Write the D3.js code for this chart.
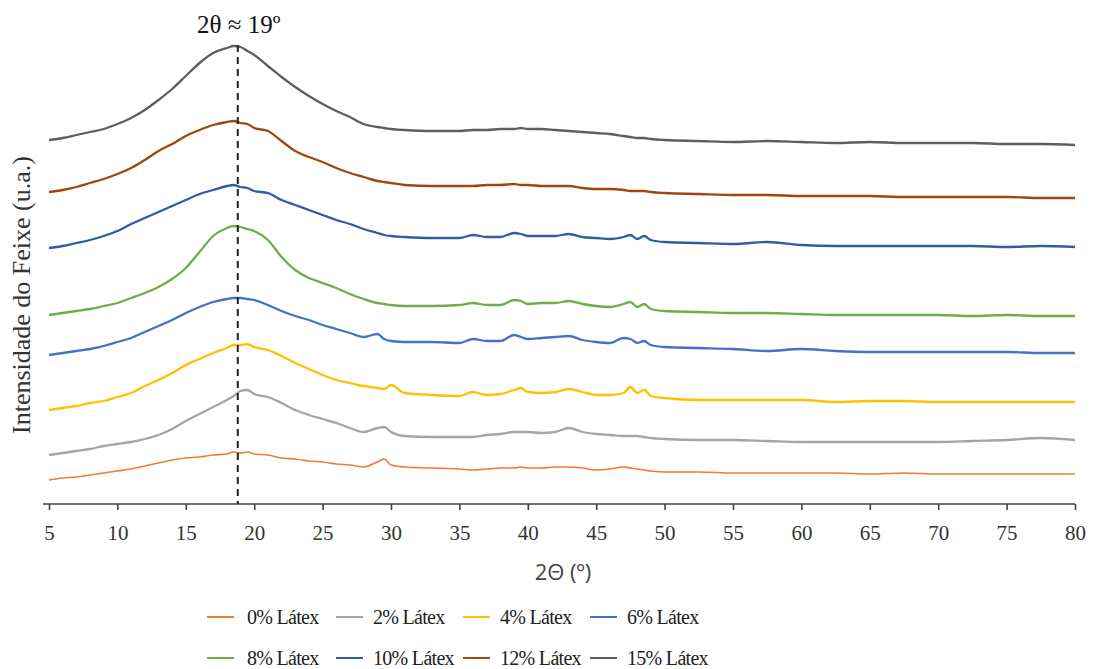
<!DOCTYPE html>
<html>
<head>
<meta charset="utf-8">
<script src="https://cdn.jsdelivr.net/npm/d3@7"></script>
<style>
body{margin:0;background:#fff;}
</style>
</head>
<body>
<div id="svg-container"></div>
<script>
//資料 2θ 網格與各系列強度 (u.a.)
twoTheta=[5,6,7,8,9,10,11,12,13,14,15,16,17,18,18.5,19,19.5,20,21,22,23,24,25,26,27,28,29,29.5,30,31,33,35,36,37,38,39,39.5,40,41,42,43,44,45,46,47,47.5,48,48.5,49,50,52.5,55,57.5,60,62.5,65,67.5,70,72.5,75,77.5,80];

lat0=[24,26,27,29,31,33,35,38,41,44,46,47,49,50, 52,51,52,50, 49,46,45,43,42,40,39,37,42, 45,39,37, 36,35,34,35,36,36, 37,36,36,37,37,36,34,35,37, 36,35,34,33,32, 32,31,31,31,31,30,31,30,30,30,30,30];
lat2=[49,51,53,55,58,60,62,65,69,75,83,90,97,104, 108,113,114,110, 107,101,94,89,85,81,76,72,76, 77,72,68, 67,67,67,69,70,72, 72,72,71,72,76,72,70,69,68, 68,68,67,66,65, 64,64,63,62,62,62,62,62,63,64,66,64];
lat4=[94,96,98,101,103,107,111,118,124,131,139,145,151,156, 159,159,160,157, 154,148,141,135,129,124,121,118,116, 115,119,111, 109,108,112,109,110,114, 116,112,111,112,115,112,109,109,111, 117,111,114,108,106, 104,104,104,104,102,103,103,102,102,102,102,102];
lat6=[149,151,153,155,158,162,166,172,178,184,191,197,202,205, 206,206,205,204, 199,193,188,184,179,175,171,167,170, 165,163,162, 162,161,165,163,163,169, 167,165,166,167,168,164,162,161,166, 165,161,163,159,157, 156,155,153,155,153,152,152,152,152,152,151,151];
lat8=[189,191,193,195,198,201,206,211,217,225,236,252,268,276, 278,277,275,273, 264,247,234,226,221,216,210,205,201, 200,199,198, 198,199,201,199,199,204, 203,200,201,201,203,200,198,197,200, 202,197,200,195,193, 192,191,191,190,189,189,189,189,188,189,188,188];
lat10=[256,258,261,264,268,273,280,286,292,298,304,310,314,318, 319,317,316,313, 311,304,299,294,289,284,280,275,271, 269,268,267, 266,266,269,267,267,271, 270,268,268,268,270,267,266,265,267, 269,265,268,264,262, 261,260,262,259,258,258,258,258,258,257,258,257];
lat12=[312,314,317,321,325,330,336,344,353,360,368,374,379,382, 383,381,380,376, 373,363,353,347,342,336,331,327,323, 322,321,319, 318,318,318,319,319,320, 319,319,318,318,318,316,315,315,314, 313,313,313,312,311, 310,309,309,308,308,308,307,307,307,307,306,306];
lat15=[364,366,369,372,375,380,386,394,404,415,428,441,451,456, 458,457,453,449, 438,427,417,408,400,393,387,380,377, 376,375,374, 373,373,374,374,375,375, 376,375,375,374,373,372,371,370,368, 367,366,366,365,364, 363,362,363,362,361,362,361,361,361,360,360,359];

seriesNames=["0% Látex","2% Látex","4% Látex","6% Látex","8% Látex","10% Látex","12% Látex","15% Látex"];
seriesValues=[lat0,lat2,lat4,lat6,lat8,lat10,lat12,lat15];
xTicks=[5,10,15,20,25,30,35,40,45,50,55,60,65,70,75,80];
peakTheta=18.8;

//全域設定
width=1094;
height=669;
colors=["#ED7D31","#A5A5A5","#FFC000","#4472C4","#70AD47","#2B5F9F","#9E480E","#5E5E5E"];
axisColor="#404040";
serif='"Liberation Serif", "Times New Roman", serif';

x=d3.scaleLinear().domain([5,80]).range([49,1075]);
y=d3.scaleLinear().domain([0,504]).range([504,0]);

svg=d3.select('#svg-container').append('svg')
	.attr('width',width).attr('height',height);

//曲線
line=d3.line()
	.curve(d3.curveMonotoneX)
	.x(function(d){return x(d[0]);})
	.y(function(d){return y(d[1]);});

svg.append('g').selectAll('path')
	.data(seriesValues)
	.enter().append('path')
	.attr('d',function(d){
		return line(d.map(function(v,i){return [twoTheta[i],v];}));
	})
	.attr('fill','none')
	.attr('stroke',function(d,i){return colors[i];})
	.attr('stroke-width',function(d,i){return i==0?1.6:2.3;})
	.attr('stroke-linejoin','round');

//x軸
xAxis=d3.axisBottom(x).tickValues(xTicks).tickSize(6).tickPadding(15).tickSizeOuter(0);
gx=svg.append('g').attr('transform','translate(0,'+y(0)+')').call(xAxis)
	.attr('font-family',serif).attr('font-size',21);
gx.select('.domain').remove();
gx.append('line')
	.attr('x1',x(5)-6).attr('x2',x(80))
	.attr('stroke',axisColor).attr('stroke-width',1.6);
gx.selectAll('.tick line').attr('stroke',axisColor).attr('stroke-width',1.6);
gx.selectAll('.tick text').attr('fill','#333');

//虛線 2θ≈19
svg.append('line')
	.attr('x1',x(peakTheta)).attr('x2',x(peakTheta))
	.attr('y1',45).attr('y2',y(0))
	.attr('stroke','#222').attr('stroke-width',2)
	.attr('stroke-dasharray','7,5');

svg.append('text')
	.attr('x',x(peakTheta)+1).attr('y',33)
	.attr('text-anchor','middle')
	.attr('font-family',serif)
	.attr('font-size',25)
	.attr('fill','#111')
	.text('2θ ≈ 19º');

//軸標題
svg.append('text')
	.attr('x',563).attr('y',580)
	.attr('text-anchor','middle')
	.attr('font-family','"Open Sans", sans-serif')
	.attr('font-size',22)
	.attr('fill','#444')
	.text('2Θ (º)');

svg.append('text')
	.attr('transform','translate(30,295)rotate(-90)')
	.attr('text-anchor','middle')
	.attr('font-family',serif)
	.attr('font-size',26)
	.attr('fill','#333')
	.text('Intensidade do Feixe (u.a.)');

//圖例
legendCol=[207,336,463,590];
legendRow=[617,658];
lg=svg.append('g').selectAll('g')
	.data(seriesNames)
	.enter().append('g')
	.attr('transform',function(d,i){
		return 'translate('+legendCol[i%4]+','+legendRow[Math.floor(i/4)]+')';
	});
lg.append('line')
	.attr('x1',0).attr('x2',27)
	.attr('stroke',function(d,i){return colors[i];})
	.attr('stroke-width',2);
lg.append('text')
	.attr('x',function(d,i){return i%4==0?40:37;})
	.attr('y',7)
	.attr('font-family',serif)
	.attr('font-size',20)
	.attr('letter-spacing',-0.7)
	.attr('fill','#222')
	.text(function(d){return d;});
</script>
</body>
</html>
